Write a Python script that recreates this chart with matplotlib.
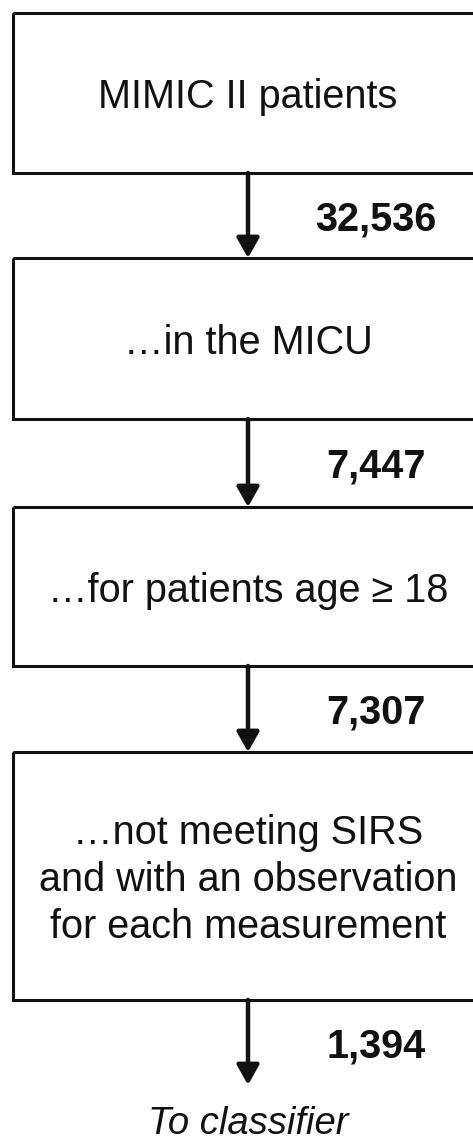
import matplotlib
matplotlib.use('Agg')
import matplotlib.pyplot as plt
from matplotlib.patches import Rectangle

plt.rcParams['font.family'] = ['Liberation Sans', 'DejaVu Sans']

# flow steps and counts passed between them
steps = [
    'MIMIC II patients',
    '\u2026in the MICU',
    '\u2026for patients age \u2265 18',
    '\u2026not meeting SIRS\nand with an observation\nfor each measurement',
]
counts = ['32,536', '7,447', '7,307', '1,394']
final_label = 'To classifier'

# layout in pixel coordinates (y downward)
box_top = [13, 258, 507, 752]
box_bot = [173, 419, 666, 1000]
box_left, box_right = 13, 490
arrow_x = 248
count_x = 376
final_y = 1124
final_tip = 1085
fs = 28.5

fig = plt.figure(figsize=(4.73, 11.45), dpi=100)
ax = fig.add_axes([0, 0, 1, 1])
ax.set_xlim(0, 473)
ax.set_ylim(1145, 0)
ax.axis('off')

for i, label in enumerate(steps):
    top, bot = box_top[i], box_bot[i]
    ax.add_patch(Rectangle((box_left, top), box_right - box_left, bot - top,
                           fill=False, edgecolor='#111111', lw=2.2))
    ax.text(arrow_x, (top + bot) / 2 + 4, label, ha='center', va='center',
            fontsize=fs, color='#111111', linespacing=1.3)

    start = bot
    end = box_top[i + 1] if i + 1 < len(steps) else final_tip
    ax.annotate('', xy=(arrow_x, end), xytext=(arrow_x, start),
                arrowprops=dict(arrowstyle='-|>,head_length=0.8,head_width=0.45',
                                lw=3.2, color='#111111', shrinkA=0, shrinkB=0,
                                mutation_scale=15))
    ax.text(count_x, (start + end) / 2 + 4, counts[i], ha='center', va='center',
            fontsize=fs, fontweight='bold', color='#111111')

ax.text(arrow_x, final_y, final_label, ha='center', va='center',
        fontsize=27.5, fontstyle='italic', color='#111111')

fig.savefig('out.png', dpi=100, facecolor='white')
